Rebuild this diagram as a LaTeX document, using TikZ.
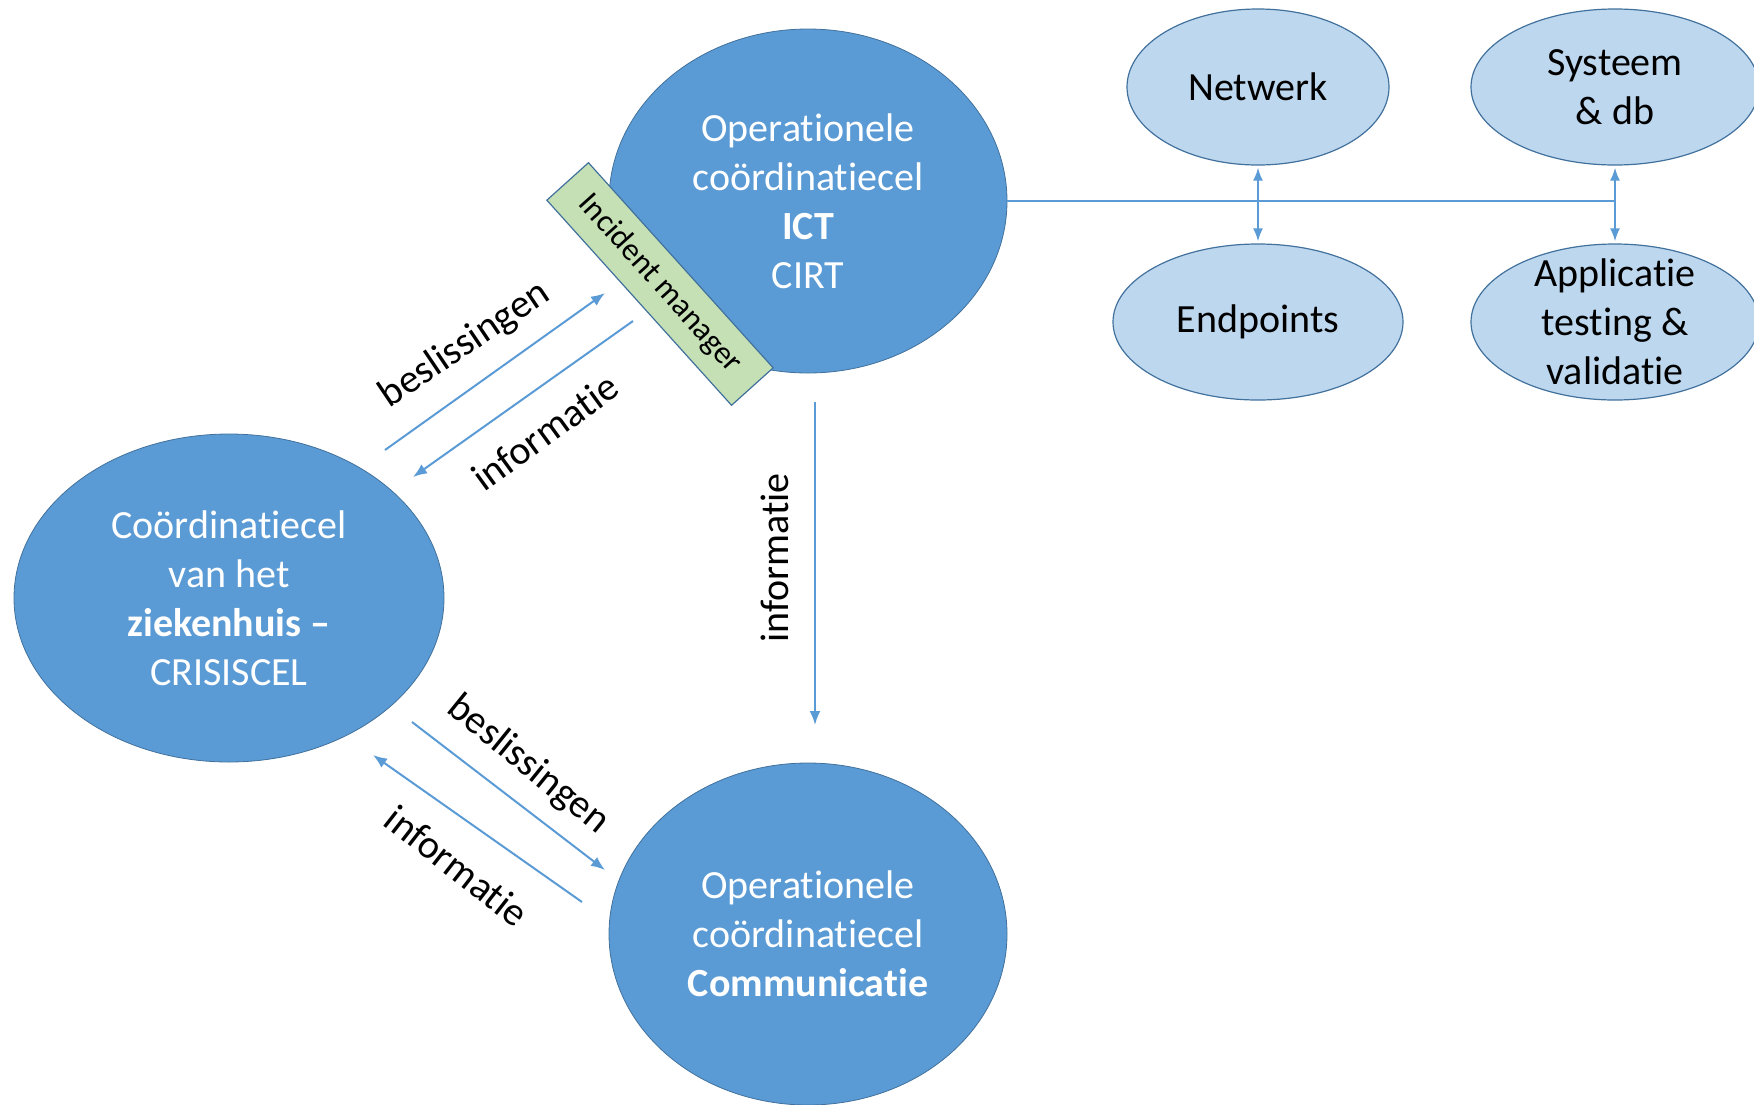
\documentclass[tikz,border=0pt]{standalone}
\usepackage{fontspec}
\setmainfont{Carlito}[Ligatures={NoCommon,NoContextual},Contextuals=NoAlternate]
\usetikzlibrary{shapes.geometric,arrows.meta}
\definecolor{accent}{HTML}{5B9BD5}
\definecolor{outline}{HTML}{41719C}
\definecolor{lightblue}{HTML}{BDD7EE}
\definecolor{lightgreen}{HTML}{C5E0B4}
\begin{document}
\begin{tikzpicture}[x=1pt,y=-1pt,
  every node/.style={font=\fontsize{40}{49}\selectfont},
  cell/.style={ellipse, fill=accent, draw=outline, line width=0.8pt, text=white, align=center, inner sep=0pt},
  team/.style={ellipse, fill=lightblue, draw=outline, line width=1.2pt, text=black, align=center, inner sep=0pt},
  flow/.style={draw=accent, line width=2pt, -{Latex[length=14pt,width=11pt]}},
  link/.style={draw=accent, line width=2pt, {Latex[length=13pt,width=10pt]}-{Latex[length=13pt,width=10pt]}, shorten <=2pt, shorten >=2pt},
  lbl/.style={text=black, inner sep=0pt}
]
\useasboundingbox (0,0) rectangle (1754,1104);

% coordination cells
\node[cell, minimum width=398, minimum height=344] (ict) at (808,201)
  {Operationele\\coördinatiecel\\\textbf{ICT}\\CIRT};
\node[cell, minimum width=430, minimum height=328] (crisis) at (229,598)
  {Coördinatiecel\\van het\\\textbf{ziekenhuis –}\\CRISISCEL};
\node[cell, minimum width=398, minimum height=342] (comm) at (808,934)
  {Operationele\\coördinatiecel\\\textbf{Communicatie}};

% incident manager tag on the ICT cell
\node[draw=outline, fill=lightgreen, line width=1.2pt, rotate=-48, minimum width=276, minimum height=56,
  inner sep=0pt, font=\fontsize{32}{36}\selectfont] (im) at (660,284) {Incident manager};

% ICT teams
\node[team, minimum width=262, minimum height=156] (net) at (1258,87) {Netwerk};
\node[team, minimum width=288, minimum height=156] (sys) at (1615,87) {Systeem\\\& db};
\node[team, minimum width=290, minimum height=156] (end) at (1258,322) {Endpoints};
\node[team, minimum width=288, minimum height=156] (app) at (1615,322) {};
\node[align=center, inner sep=0pt] (apptext) at (app.center) {Applicatie\\testing \&\\validatie};

\coordinate (bus) at (ict.east -| sys.south);
\draw[draw=accent, line width=2.4pt] (ict.east) -- (bus);
\draw[link] (net.south) -- (end.north);
\draw[link] (sys.south) -- (app.north);

% flows between the cells
\coordinate (b1s) at (385,450);  \coordinate (b1e) at (605,293);
\coordinate (i1s) at (633,321);  \coordinate (i1e) at (413,477);
\coordinate (b2s) at (412,722);  \coordinate (b2e) at (605,870);
\coordinate (i2s) at (582,902);  \coordinate (i2e) at (373,755);
\coordinate (i3s) at (815,402);  \coordinate (i3e) at (815,725);
\draw[flow] (b1s) -- (b1e);
\draw[flow] (i1s) -- (i1e);
\draw[flow] (b2s) -- (b2e);
\draw[flow] (i2s) -- (i2e);
\draw[flow] (i3s) -- (i3e);

\node[lbl, rotate=34] (lb1) at (465,345) {beslissingen};
\node[lbl, rotate=36] (li1) at (545,432) {informatie};
\node[lbl, rotate=-39] (lb2) at (528,765) {beslissingen};
\node[lbl, rotate=-38] (li2) at (457,866) {informatie};
\node[lbl, rotate=90] (li3) at (775,558) {informatie};
\end{tikzpicture}
\end{document}
